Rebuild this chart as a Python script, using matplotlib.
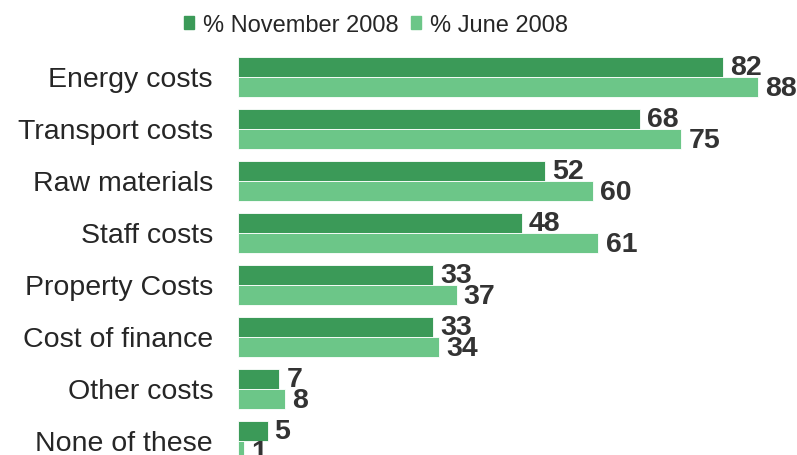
import matplotlib
matplotlib.use("Agg")
import matplotlib.pyplot as plt
from matplotlib.patches import Patch

categories = ["Energy costs", "Transport costs", "Raw materials", "Staff costs",
              "Property Costs", "Cost of finance", "Other costs", "None of these"]
nov_2008 = [82, 68, 52, 48, 33, 33, 7, 5]
jun_2008 = [88, 75, 60, 61, 37, 34, 8, 1]
series_names = ["% November 2008", "% June 2008"]

dark = "#3B9A58"
light = "#6CC688"
txt = "#262626"
lbl = "#333333"

plt.rcParams['font.family'] = ['Liberation Sans', 'DejaVu Sans']

W, H = 797, 456
fig = plt.figure(figsize=(W / 100, H / 100), dpi=100)
left_px = 238
ax = fig.add_axes([left_px / W, 0, (W - left_px) / W, 1])
px_per_unit = (758 - 238) / 88
ax.set_xlim(0, (W - left_px) / px_per_unit)
pitch = 52
y0 = 78
ax.set_ylim((H - y0) / pitch, -y0 / pitch)

ys = list(range(len(categories)))
off = 0.2
h = 0.385
ax.barh([y - off for y in ys], nov_2008, height=h, color=dark, edgecolor="white", linewidth=0.6)
ax.barh([y + off for y in ys], jun_2008, height=h, color=light, edgecolor="white", linewidth=0.6)

for y, v in zip(ys, nov_2008):
    ax.text(v + 1.2, y - off, str(v), ha="left", va="center", fontsize=20.5,
            fontweight="bold", color=lbl)
for y, v in zip(ys, jun_2008):
    ax.text(v + 1.2, y + off + 0.02, str(v), ha="left", va="center", fontsize=20.5,
            fontweight="bold", color=lbl)

for y, c in zip(ys, categories):
    ax.text(-25 / px_per_unit, y + 0.04, c, ha="right", va="center", fontsize=20.5, color=txt,
            clip_on=False)

ax.axis("off")

handles = [Patch(color=dark), Patch(color=light)]
fig.legend(handles, series_names, loc="center", bbox_to_anchor=(376 / W, 1 - 26 / H),
           ncol=2, frameon=False, fontsize=17, handlelength=0.43, handleheight=0.43,
           handletextpad=0.35, columnspacing=0.55, labelcolor=txt)

fig.savefig("out.png", dpi=100)
